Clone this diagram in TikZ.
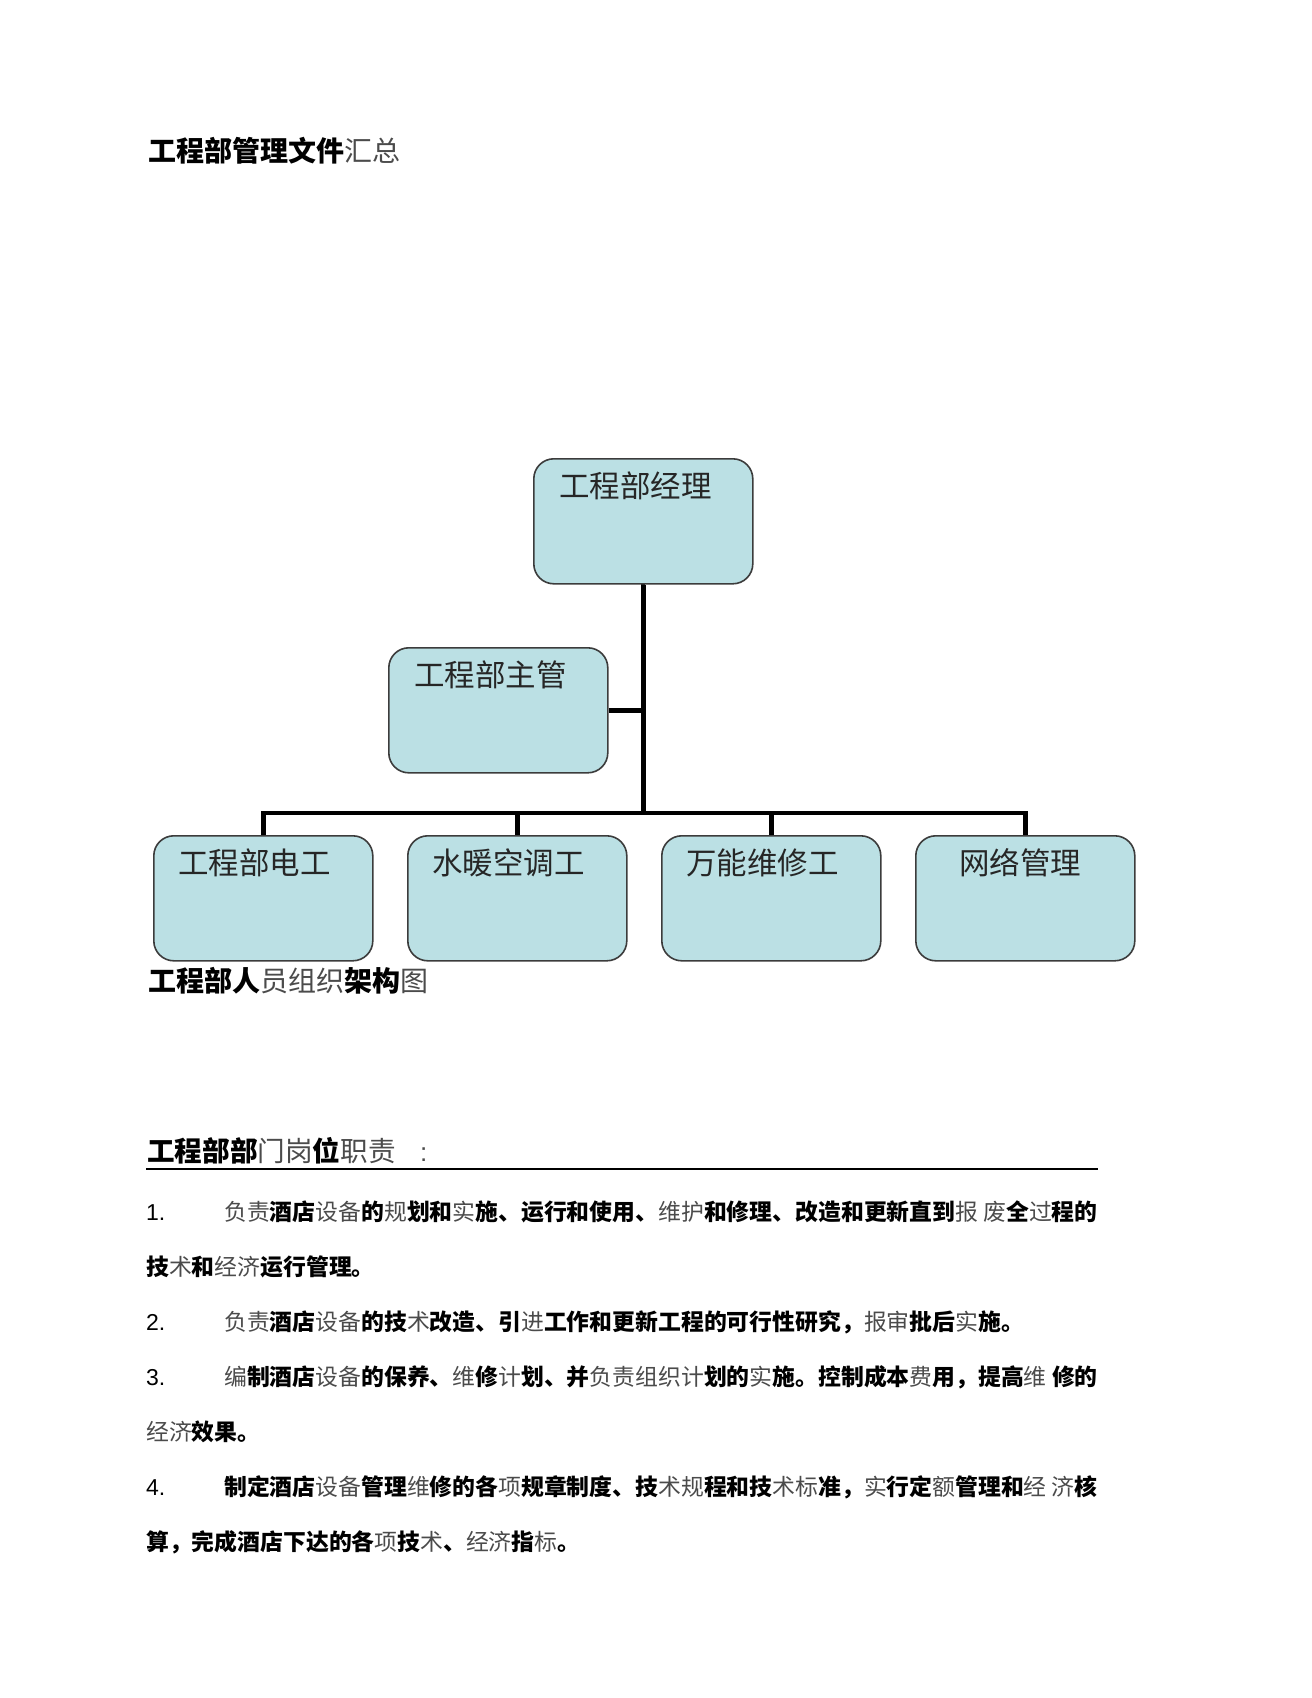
\documentclass[tikz,border=0pt]{standalone}
\usepackage{fontspec}
\setmainfont{Liberation Sans}
\newfontfamily\cjk{Noto Sans CJK SC}
\definecolor{boxfill}{RGB}{187,224,228}
\definecolor{boxline}{RGB}{60,60,60}
\definecolor{thincol}{RGB}{75,75,75}
\newcommand\thn[1]{{\mdseries\color{thincol}#1}}
\begin{document}
\begin{tikzpicture}[x=1pt,y=-1pt,
  orgbox/.style={draw=boxline, line width=1.6pt, fill=boxfill, rounded corners=20pt,
    minimum width=219pt, minimum height=125pt, anchor=north west, inner sep=0pt},
  boxtext/.style={anchor=base west, inner sep=0pt, font=\cjk\fontsize{30.5}{31}\selectfont, text=black!85},
  conn/.style={line width=4.5pt, miter limit=10},
  body/.style={anchor=base west, inner sep=0pt, font=\cjk\bfseries\fontsize{22.85}{24}\selectfont},
  num/.style={anchor=base west, inner sep=0pt, font=\fontsize{23}{24}\selectfont},
  heading/.style={anchor=base west, inner sep=0pt, font=\cjk\bfseries\fontsize{28}{29}\selectfont}]
\useasboundingbox[fill=white] (0,0) rectangle (1312,1698);

% title
\node[heading] (title) at (148,161) {工程部管理文件\thn{汇总}};

% org chart boxes
\coordinate (j) at (643,813);
\draw[conn] (643,540) -- (j);
\node[orgbox] (mgr) at (533,458) {};
\node[orgbox] (sup) at (388,647) {};
\node[orgbox] (e1) at (153,835) {};
\node[orgbox] (e2) at (407,835) {};
\node[orgbox] (e3) at (661,835) {};
\node[orgbox] (e4) at (915,835) {};

\node[boxtext] (mgrt) at ([shift={(26,39)}]mgr.north west) {工程部经理};
\node[boxtext] (supt) at ([shift={(26,39)}]sup.north west) {工程部主管};
\node[boxtext] (e1t) at ([shift={(25,39)}]e1.north west) {工程部电工};
\node[boxtext] (e2t) at ([shift={(25,39)}]e2.north west) {水暖空调工};
\node[boxtext] (e3t) at ([shift={(25,39)}]e3.north west) {万能维修工};
\node[boxtext] (e4t) at ([shift={(44,39)}]e4.north west) {网络管理};

% connectors
\draw[conn] (mgr.south) -- (mgr.south |- j);
\draw[conn] (sup.east) -- (sup.east -| mgr.south);
\draw[conn] (e1.north) -- (e1.north |- j) -- (e4.north |- j) -- (e4.north);
\draw[conn] (e2.north |- j) -- (e2.north);
\draw[conn] (e3.north |- j) -- (e3.north);

% caption
\node[heading] (caption) at (148,991) {工程部人\thn{员组织}架构\thn{图}};

% section heading
\node[heading, font=\cjk\bfseries\fontsize{27.6}{29}\selectfont] (sec) at (147,1161) {工程部部\thn{门岗}位\thn{职责}};
\node[num, font=\fontsize{26}{28}\selectfont] (colon) at (420,1161) {\thn{:}};
\draw[line width=1.5pt] (146,1169) -- (1098,1169);

% list
\node[num] (n1) at (146,1220) {1.};
\node[body] (l1) at (224,1220) {\thn{负责}酒店\thn{设备}的\thn{规}划和\thn{实}施、运行和使用、\thn{维护}和修理、改造和更新直到\thn{报 废}全\thn{过}程的};
\node[body] (l1b) at (146,1275.5) {技\thn{术}和\thn{经济}运行管理。};
\node[num] (n2) at (146,1330) {2.};
\node[body] (l2) at (224,1330) {\thn{负责}酒店\thn{设备}的技\thn{术}改造、引\thn{进}工作和更新工程的可行性研究，\thn{报审}批后\thn{实}施。};
\node[num] (n3) at (146,1385) {3.};
\node[body] (l3) at (224,1385) {\thn{编}制酒店\thn{设备}的保养、\thn{维}修\thn{计}划、并\thn{负责组织计}划的\thn{实}施。控制成本\thn{费}用，提高\thn{维} 修的};
\node[body] (l3b) at (146,1440) {\thn{经济}效果。};
\node[num] (n4) at (146,1495) {4.};
\node[body] (l4) at (224,1495) {制定酒店\thn{设备}管理\thn{维}修的各\thn{项}规章制度、技\thn{术规}程和技\thn{术标}准，\thn{实}行定\thn{额}管理和\thn{经 济}核};
\node[body] (l4b) at (146,1550) {算，完成酒店下达的各\thn{项}技\thn{术}、\thn{经济}指\thn{标}。};
\end{tikzpicture}
\end{document}
